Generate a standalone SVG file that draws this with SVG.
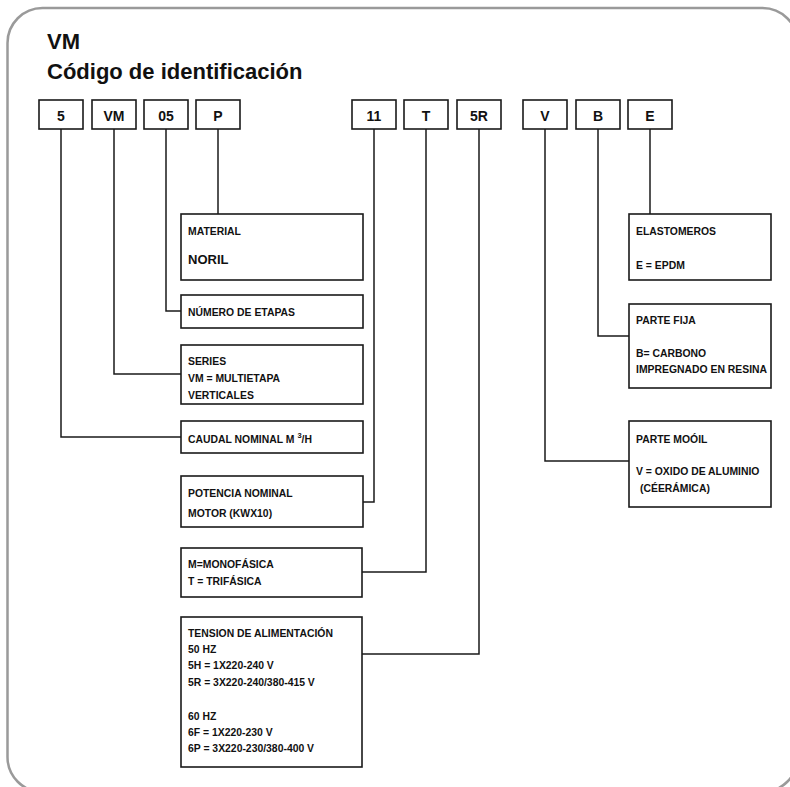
<svg xmlns="http://www.w3.org/2000/svg" width="790" height="787" viewBox="0 0 790 787">
<style>
.frame{fill:#fff;stroke:#9a9a9a;stroke-width:2.5}
.box{fill:#fff;stroke:#1a1a1a;stroke-width:1.6}
.ln{fill:none;stroke:#1a1a1a;stroke-width:1.5}
text{font-family:"Liberation Sans",Arial,sans-serif;font-weight:bold;fill:#111}
.title{font-size:22px}
.code{font-size:14px;text-anchor:middle}
.lbl{font-size:10.4px}
.big{font-size:13px}
</style>
<rect class="frame" x="7.5" y="8" width="790" height="784" rx="35"/>
<g id="title">
<text class="title" x="47" y="49">VM</text>
<text class="title" x="47" y="79">Código de identificación</text>
</g>
<g id="connectors">
<polyline class="ln" points="61,129 61,437 181,437"/>
<polyline class="ln" points="114,129 114,374 181,374"/>
<polyline class="ln" points="166,129 166,311 181,311"/>
<polyline class="ln" points="218,129 218,214"/>
<polyline class="ln" points="374,129 374,502 362,502"/>
<polyline class="ln" points="426,129 426,572 362,572"/>
<polyline class="ln" points="479,129 479,654 362,654"/>
<polyline class="ln" points="545,129 545,461 629,461"/>
<polyline class="ln" points="598,129 598,336 629,336"/>
<polyline class="ln" points="650,129 650,214"/>
</g>
<g id="code-5"><rect class="box" x="39" y="100" width="44" height="29"/><text class="code" x="61" y="120.5">5</text></g>
<g id="code-VM"><rect class="box" x="92" y="100" width="44" height="29"/><text class="code" x="114" y="120.5">VM</text></g>
<g id="code-05"><rect class="box" x="144" y="100" width="44" height="29"/><text class="code" x="166" y="120.5">05</text></g>
<g id="code-P"><rect class="box" x="196" y="100" width="44" height="29"/><text class="code" x="218" y="120.5">P</text></g>
<g id="code-11"><rect class="box" x="352" y="100" width="44" height="29"/><text class="code" x="374" y="120.5">11</text></g>
<g id="code-T"><rect class="box" x="404" y="100" width="44" height="29"/><text class="code" x="426" y="120.5">T</text></g>
<g id="code-5R"><rect class="box" x="457" y="100" width="44" height="29"/><text class="code" x="479" y="120.5">5R</text></g>
<g id="code-V"><rect class="box" x="523" y="100" width="44" height="29"/><text class="code" x="545" y="120.5">V</text></g>
<g id="code-B"><rect class="box" x="576" y="100" width="44" height="29"/><text class="code" x="598" y="120.5">B</text></g>
<g id="code-E"><rect class="box" x="628" y="100" width="44" height="29"/><text class="code" x="650" y="120.5">E</text></g>
<g id="material"><rect class="box" x="181" y="214" width="182" height="66"/>
<text class="lbl" x="188" y="235">MATERIAL</text>
<text class="big" x="188" y="264">NORIL</text></g>
<g id="etapas"><rect class="box" x="181" y="295" width="182" height="33"/>
<text class="lbl" x="188" y="316">NÚMERO DE ETAPAS</text></g>
<g id="series"><rect class="box" x="181" y="345" width="182" height="59"/>
<text class="lbl" x="188" y="365">SERIES</text>
<text class="lbl" x="188" y="382">VM = MULTIETAPA</text>
<text class="lbl" x="188" y="399">VERTICALES</text></g>
<g id="caudal"><rect class="box" x="181" y="421" width="182" height="32"/>
<text class="lbl" x="188" y="443">CAUDAL NOMINAL M<tspan dx="3" dy="-5" font-size="7.5px">3</tspan><tspan dy="5">/H</tspan></text></g>
<g id="potencia"><rect class="box" x="181" y="476" width="182" height="51"/>
<text class="lbl" x="188" y="497">POTENCIA NOMINAL</text>
<text class="lbl" x="188" y="517">MOTOR (KWX10)</text></g>
<g id="fase"><rect class="box" x="181" y="548" width="181" height="49"/>
<text class="lbl" x="188" y="568">M=MONOFÁSICA</text>
<text class="lbl" x="188" y="585">T = TRIFÁSICA</text></g>
<g id="tension"><rect class="box" x="181" y="617" width="181" height="150"/>
<text class="lbl" x="188" y="637">TENSION DE ALIMENTACIÓN</text>
<text class="lbl" x="188" y="653">50 HZ</text>
<text class="lbl" x="188" y="669">5H = 1X220-240 V</text>
<text class="lbl" x="188" y="686">5R = 3X220-240/380-415 V</text>
<text class="lbl" x="188" y="720">60 HZ</text>
<text class="lbl" x="188" y="736">6F = 1X220-230 V</text>
<text class="lbl" x="188" y="752">6P = 3X220-230/380-400 V</text></g>
<g id="elastomeros"><rect class="box" x="629" y="214" width="142" height="66"/>
<text class="lbl" x="636" y="235">ELASTOMEROS</text>
<text class="lbl" x="636" y="269">E = EPDM</text></g>
<g id="parte-fija"><rect class="box" x="629" y="304" width="142" height="84"/>
<text class="lbl" x="636" y="324">PARTE FIJA</text>
<text class="lbl" x="636" y="357">B= CARBONO</text>
<text class="lbl" x="636" y="373">IMPREGNADO EN RESINA</text></g>
<g id="parte-movil"><rect class="box" x="629" y="421" width="142" height="86"/>
<text class="lbl" x="636" y="443">PARTE MOÓIL</text>
<text class="lbl" x="636" y="475">V = OXIDO DE ALUMINIO</text>
<text class="lbl" x="640" y="492">(CÉERÁMICA)</text></g>
</svg>
